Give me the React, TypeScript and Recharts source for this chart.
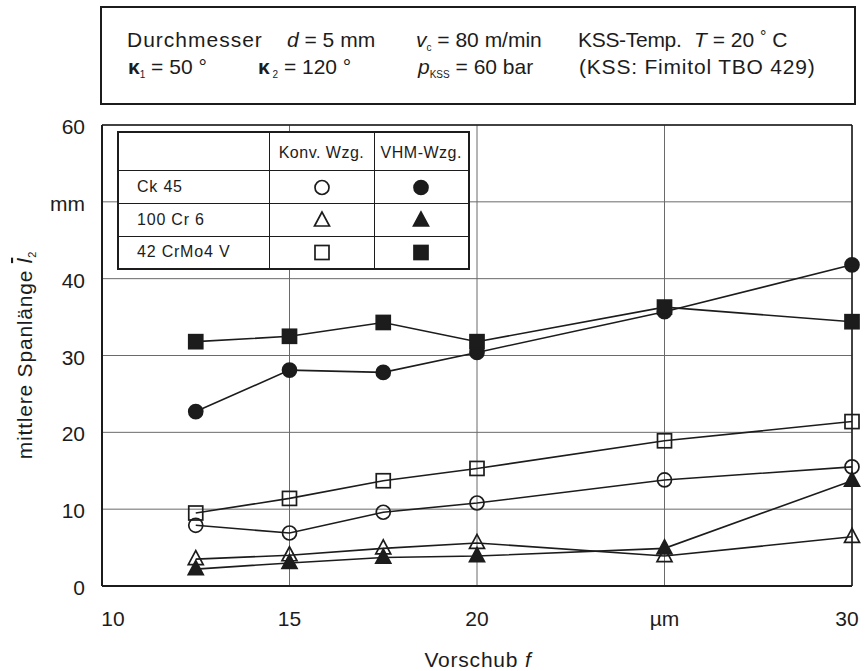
import { LineChart, Line, XAxis, YAxis, CartesianGrid, ReferenceLine } from "recharts";

const FONT = '"Liberation Sans", Arial, sans-serif';
const INK = "#1c1c1c";

// Vorschub f in µm
const feeds = [12.5, 15, 17.5, 20, 25, 30];
// mittlere Spanlänge in mm
const ck45Konv = [7.9, 6.9, 9.6, 10.8, 13.8, 15.5];
const ck45Vhm = [22.7, 28.1, 27.8, 30.4, 35.7, 41.8];
const cr6Konv = [3.5, 4.0, 4.9, 5.6, 3.9, 6.4];
const cr6Vhm = [2.2, 3.0, 3.7, 3.9, 4.9, 13.7];
const crmoKonv = [9.5, 11.4, 13.7, 15.3, 18.9, 21.4];
const crmoVhm = [31.8, 32.5, 34.3, 31.8, 36.3, 34.4];

const xTicks = [10, 15, 20, 25, 30];
const xTickLabels = ["10", "15", "20", "µm", "30"];
const yTicks = [0, 10, 20, 30, 40, 50, 60];
const yTickLabels = ["0", "10", "20", "30", "40", "mm", "60"];

const materials = ["Ck 45", "100 Cr 6", "42 CrMo4 V"];
const toolHeads = ["Konv. Wzg.", "VHM-Wzg."];

type Kind = "circle" | "triangle" | "square";

const seriesDefs: { key: string; values: number[]; kind: Kind; filled: boolean }[] = [
  { key: "ck45Konv", values: ck45Konv, kind: "circle", filled: false },
  { key: "ck45Vhm", values: ck45Vhm, kind: "circle", filled: true },
  { key: "cr6Konv", values: cr6Konv, kind: "triangle", filled: false },
  { key: "cr6Vhm", values: cr6Vhm, kind: "triangle", filled: true },
  { key: "crmoKonv", values: crmoKonv, kind: "square", filled: false },
  { key: "crmoVhm", values: crmoVhm, kind: "square", filled: true },
];

const data = feeds.map((f, i) => {
  const row: Record<string, number> = { f };
  seriesDefs.forEach((s) => (row[s.key] = s.values[i]));
  return row;
});

function Marker({ cx, cy, kind, filled }: { cx: number; cy: number; kind: Kind; filled: boolean }) {
  const fill = filled ? INK : "none";
  const sw = 1.7;
  if (kind === "circle") return <circle cx={cx} cy={cy} r={7} fill={fill} stroke={INK} strokeWidth={sw} />;
  if (kind === "square")
    return <rect x={cx - 7} y={cy - 7} width={14} height={14} fill={fill} stroke={INK} strokeWidth={sw} />;
  return (
    <polygon
      points={`${cx},${cy - 8.5} ${cx - 7.5},${cy + 5.5} ${cx + 7.5},${cy + 5.5}`}
      fill={fill}
      stroke={INK}
      strokeWidth={sw}
      strokeLinejoin="miter"
    />
  );
}

const XTick = (p: any) => {
  const i = xTicks.indexOf(p.payload.value);
  const shift = p.payload.value === 10 ? 11 : p.payload.value === 30 ? -5 : 0;
  return (
    <text x={p.x + shift} y={p.y + 32} textAnchor="middle" fontSize={21} fontFamily={FONT} fill={INK}>
      {xTickLabels[i]}
    </text>
  );
};

const YTick = (p: any) => {
  const i = yTicks.indexOf(p.payload.value);
  return (
    <text x={p.x - 9} y={p.y + 9} textAnchor="end" fontSize={21} fontFamily={FONT} fill={INK}>
      {yTickLabels[i]}
    </text>
  );
};

function MiniMarker({ kind, filled }: { kind: Kind; filled: boolean }) {
  return (
    <svg width={20} height={20} style={{ display: "block", margin: "0 auto" }}>
      <Marker cx={10} cy={10.5} kind={kind} filled={filled} />
    </svg>
  );
}

function LegendTable() {
  const kinds: Kind[] = ["circle", "triangle", "square"];
  const cell: React.CSSProperties = { border: `1px solid ${INK}`, padding: 0 };
  return (
    <table
      style={{
        position: "absolute",
        left: 117,
        top: 131,
        width: 351,
        height: 139,
        borderCollapse: "collapse",
        background: "#fff",
        border: `2px solid ${INK}`,
        fontFamily: FONT,
        fontSize: 16,
        color: INK,
        tableLayout: "fixed",
      }}
    >
      <colgroup>
        <col style={{ width: 151 }} />
        <col style={{ width: 105 }} />
        <col style={{ width: 95 }} />
      </colgroup>
      <tbody>
        <tr style={{ height: 38 }}>
          <td style={cell}></td>
          {toolHeads.map((h) => (
            <td
              key={h}
              style={{ ...cell, textAlign: "center", verticalAlign: "middle", letterSpacing: 0.5, paddingTop: 4, whiteSpace: "nowrap" }}
            >
              {h}
            </td>
          ))}
        </tr>
        {materials.map((m, r) => (
          <tr key={m} style={{ height: 33 }}>
            <td style={{ ...cell, paddingLeft: 18, letterSpacing: 0.8 }}>{m}</td>
            <td style={cell}>
              <MiniMarker kind={kinds[r]} filled={false} />
            </td>
            <td style={cell}>
              <MiniMarker kind={kinds[r]} filled={true} />
            </td>
          </tr>
        ))}
      </tbody>
    </table>
  );
}

function Header() {
  return (
    <>
      <div
        style={{
          position: "absolute",
          left: 100,
          top: 6,
          width: 752,
          height: 95,
          border: `2px solid ${INK}`,
          background: "#fff",
        }}
      />
      <svg width={867} height={110} style={{ position: "absolute", left: 0, top: 0 }}>
        <g fontFamily={FONT} fontSize={21} fill={INK}>
          <text x={127} y={47} letterSpacing={1}>Durchmesser</text>
          <text x={287} y={47}>
            <tspan fontStyle="italic">d</tspan> = 5 mm
          </text>
          <text x={416} y={47}>
            <tspan fontStyle="italic">v</tspan>
            <tspan fontSize={10} dy={4}>c</tspan>
            <tspan dy={-4}> = 80 m/min</tspan>
          </text>
          <text x={578} y={47} letterSpacing={-0.3}>KSS-Temp.</text>
          <text x={694} y={47}>
            <tspan fontStyle="italic">T</tspan> = 20 <tspan dy={-5} fontSize={16}>°</tspan>
            <tspan dy={5}> C</tspan>
          </text>

          <text x={128} y={74}>
            <tspan fontWeight="bold">κ</tspan>
            <tspan fontSize={10} dy={4}>1</tspan>
            <tspan dy={-4}> = 50 °</tspan>
          </text>
          <text x={258} y={74}>
            <tspan fontWeight="bold">κ</tspan>
            <tspan fontSize={10} dy={4}> 2</tspan>
            <tspan dy={-4}> = 120 °</tspan>
          </text>
          <text x={418} y={74}>
            <tspan fontStyle="italic">p</tspan>
            <tspan fontSize={10} dy={4}>KSS</tspan>
            <tspan dy={-4}> = 60 bar</tspan>
          </text>
          <text x={579} y={74} letterSpacing={0.8}>(KSS: Fimitol TBO 429)</text>
        </g>
      </svg>
    </>
  );
}

function AxisTitles() {
  return (
    <svg width={867} height={671} style={{ position: "absolute", left: 0, top: 0, pointerEvents: "none" }}>
      <g fontFamily={FONT} fontSize={21} fill={INK} letterSpacing={0.8}>
        <text x={478} y={667} textAnchor="middle">
          Vorschub <tspan fontStyle="italic">f</tspan>
        </text>
        <text transform="translate(32,355) rotate(-90)" textAnchor="middle">
          mittlere Spanlänge{" "}
          <tspan fontStyle="italic" textDecoration="overline" style={{ textDecoration: "overline" }}>
            l
          </tspan>
          <tspan fontSize={11} dy={4}>2</tspan>
        </text>
      </g>
    </svg>
  );
}

export default function App() {
  return (
    <div style={{ position: "absolute", left: 0, top: 0, width: 867, height: 671, background: "#fff" }}>
      <Header />
      <div style={{ position: "absolute", left: 0, top: 0 }}>
        <LineChart width={867} height={671} data={data} margin={{ top: 125, right: 15, bottom: 0, left: 0 }}>
          <CartesianGrid stroke="#6a6a6a" strokeWidth={1} />
          <XAxis
            dataKey="f"
            type="number"
            domain={[10, 30]}
            ticks={xTicks}
            tickLine={false}
            axisLine={{ stroke: INK, strokeWidth: 2 }}
            tick={XTick}
            height={85}
          />
          <YAxis
            type="number"
            domain={[0, 60]}
            ticks={yTicks}
            tickLine={false}
            axisLine={{ stroke: INK, strokeWidth: 2 }}
            tick={YTick}
            width={102}
          />
          <ReferenceLine y={60} stroke={INK} strokeWidth={1.5} />
          <ReferenceLine x={30} stroke={INK} strokeWidth={1.5} />
          {seriesDefs.map((s) => (
            <Line
              key={s.key}
              dataKey={s.key}
              type="linear"
              stroke={INK}
              strokeWidth={1.6}
              isAnimationActive={false}
              dot={(p: any) => <Marker key={`${s.key}-${p.index}`} cx={p.cx} cy={p.cy} kind={s.kind} filled={s.filled} />}
              activeDot={false}
            />
          ))}
        </LineChart>
      </div>
      <LegendTable />
      <AxisTitles />
    </div>
  );
}
